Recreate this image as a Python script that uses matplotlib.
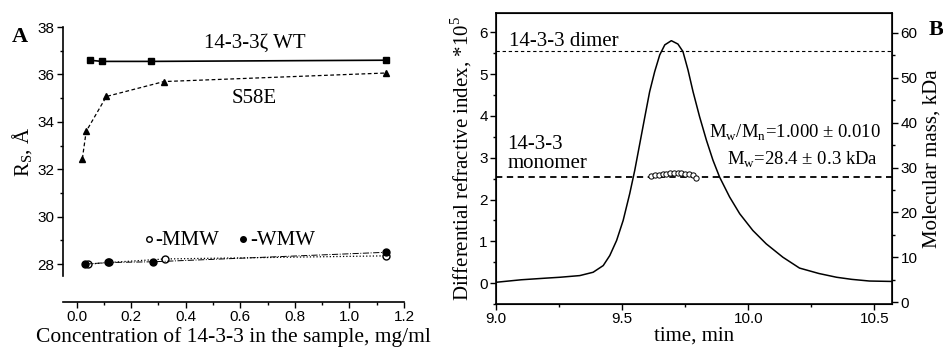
import numpy as np
import matplotlib.pyplot as plt
from matplotlib.ticker import MultipleLocator

# ---------------- data: panel A (Stokes radius vs concentration) ----------------
wt_conc = [0.048, 0.092, 0.272, 1.133]
wt_rs = [36.6, 36.55, 36.55, 36.6]

s58e_conc = [0.021, 0.035, 0.109, 0.32, 1.133]
s58e_rs = [32.45, 33.6, 35.07, 35.7, 36.06]

mmw_conc = [0.042, 0.12, 0.325, 1.133]
mmw_rs = [28.0, 28.07, 28.22, 28.35]

wmw_conc = [0.03, 0.115, 0.28, 1.133]
wmw_rs = [28.0, 28.07, 28.1, 28.5]

# ---------------- data: panel B (SEC-MALS trace) ----------------
t_min = [9.0, 9.1, 9.2, 9.253, 9.332, 9.385, 9.425, 9.451, 9.478, 9.504,
         9.530, 9.550, 9.570, 9.590, 9.609, 9.629, 9.649, 9.669, 9.695,
         9.721, 9.741, 9.761, 9.781, 9.807, 9.834, 9.860, 9.886, 9.926,
         9.966, 10.018, 10.071, 10.137, 10.203, 10.28, 10.35, 10.41,
         10.48, 10.57]
dri = [0.02, 0.08, 0.12, 0.14, 0.18, 0.26, 0.42, 0.66, 1.02, 1.50,
       2.14, 2.70, 3.34, 3.98, 4.58, 5.06, 5.46, 5.70, 5.80,
       5.72, 5.54, 5.10, 4.58, 3.98, 3.42, 2.94, 2.54, 2.06,
       1.66, 1.26, 0.94, 0.62, 0.36, 0.23, 0.14, 0.09,
       0.05, 0.04]

mass_t = [9.616, 9.631, 9.646, 9.661, 9.675, 9.690, 9.705, 9.720, 9.735,
          9.750, 9.764, 9.779, 9.794]
mass_kda = [28.2, 28.3, 28.35, 28.45, 28.6, 28.75, 28.85, 28.85, 28.75,
            28.65, 28.5, 28.3, 27.7]

dimer_kda = 56
monomer_kda = 28

SANS = ['Liberation Sans', 'DejaVu Sans']
SERIF = ['Liberation Serif', 'DejaVu Serif']
plt.rcParams['font.family'] = SANS
plt.rcParams['font.size'] = 11
plt.rcParams['mathtext.fontset'] = 'custom'
plt.rcParams['mathtext.rm'] = 'Liberation Serif'

fig = plt.figure(figsize=(9.43, 3.54), dpi=100)

# ================= Panel A =================
ax = fig.add_axes([0.0668, 0.2203, 0.3616, 0.7034])
ax.plot(wt_conc, wt_rs, 'k-', marker='s', markersize=4.5, linewidth=1.2)
ax.plot(s58e_conc, s58e_rs, 'k--', marker='^', markersize=4.5, linewidth=0.9, dashes=(3, 2))
ax.plot(mmw_conc, mmw_rs, 'k:', marker='o', markersize=5, mfc='white', linewidth=0.9)
ax.plot(wmw_conc, wmw_rs, 'k-.', marker='o', markersize=5, linewidth=0.7)

ax.set_xlim(-0.05, 1.2)
ax.set_ylim(27.5, 38)
ax.spines['top'].set_visible(False)
ax.spines['right'].set_visible(False)
ax.spines['bottom'].set_position(('outward', 18.5))
ax.spines['left'].set_linewidth(1.2)
ax.spines['bottom'].set_linewidth(1.2)
ax.xaxis.set_major_locator(MultipleLocator(0.2))
ax.xaxis.set_minor_locator(MultipleLocator(0.1))
ax.yaxis.set_major_locator(MultipleLocator(2))
ax.yaxis.set_minor_locator(MultipleLocator(1))
ax.tick_params(which='major', direction='out', length=4, width=1, pad=2)
ax.tick_params(which='minor', direction='out', length=2.5, width=1)
ax.set_xticks([0.0, 0.2, 0.4, 0.6, 0.8, 1.0, 1.2])
ax.set_xticklabels(['0.0', '0.2', '0.4', '0.6', '0.8', '1.0', '1.2'])
ax.set_yticks([28, 30, 32, 34, 36, 38])

ax.set_xlabel('Concentration of 14-3-3 in the sample, mg/ml', family=SERIF, fontsize=15.5, labelpad=2)
ax.set_ylabel('R$_\\mathregular{S}$, Å', family=SERIF, fontsize=15, labelpad=2)

ax.text(0.653, 37.32, '14-3-3ζ WT', family=SERIF, fontsize=15, ha='center', va='center')
ax.text(0.65, 35.0, 'S58E', family=SERIF, fontsize=15, ha='center', va='center')
ax.plot([0.264], [29.05], 'ko', markersize=4, mfc='white', clip_on=False)
ax.text(0.29, 29.0, '-MMW', family=SERIF, fontsize=15, ha='left', va='center')
ax.plot([0.61], [29.05], 'ko', markersize=4, clip_on=False)
ax.text(0.635, 29.0, '-WMW', family=SERIF, fontsize=15, ha='left', va='center')
fig.text(0.012, 0.895, 'A', family=SERIF, fontsize=16, fontweight='bold', ha='left', va='center')

# ================= Panel B =================
bx = fig.add_axes([0.526, 0.1412, 0.42, 0.8218])
bx.plot(t_min, dri, 'k-', linewidth=1.1)
bx.set_xlim(9.0, 10.57)
bx.set_ylim(-0.5, 6.46)
bx.xaxis.set_major_locator(MultipleLocator(0.5))
bx.xaxis.set_minor_locator(MultipleLocator(0.25))
bx.yaxis.set_major_locator(MultipleLocator(1))
bx.yaxis.set_minor_locator(MultipleLocator(0.5))
bx.set_xticks([9.0, 9.5, 10.0, 10.5])
bx.set_xticklabels(['9.0', '9.5', '10.0', '10.5'])
bx.tick_params(which='major', direction='out', length=4, width=1, top=False, pad=2)
bx.tick_params(which='minor', direction='out', length=2.5, width=1, top=False)
for s in bx.spines.values():
    s.set_linewidth(1.2)
bx.set_xlabel('time, min', family=SERIF, fontsize=15, labelpad=0)
bx.set_ylabel('Differential refractive index, *10$^\\mathregular{5}$', family=SERIF,
              fontsize=15, labelpad=4)

rx = bx.twinx()
rx.set_ylim(-0.4, 64.4)
rx.yaxis.set_major_locator(MultipleLocator(10))
rx.yaxis.set_minor_locator(MultipleLocator(5))
rx.tick_params(which='major', direction='out', length=4, width=1, pad=2)
rx.tick_params(which='minor', direction='out', length=2.5, width=1)
rx.axhline(dimer_kda, color='black', linestyle='--', linewidth=0.8, dashes=(3, 2.5))
rx.axhline(monomer_kda, color='black', linestyle='--', linewidth=1.3, dashes=(3.5, 2.5))
rx.plot(mass_t, mass_kda, 'o', color='black', mfc='white', markersize=3.8, markeredgewidth=0.7)
rx.set_ylabel('Molecular mass, kDa', family=SERIF, fontsize=15, labelpad=4)

bx.text(9.05, 5.78, '14-3-3 dimer', family=SERIF, fontsize=15, ha='left', va='center')
bx.text(9.045, 3.09, '14-3-3\nmonomer', family=SERIF, fontsize=15, ha='left', va='center',
        linespacing=0.95)
bx.text(10.527, 3.6, 'M$_\\mathregular{w}$/M$_\\mathregular{n}$=1.000 ± 0.010', family=SERIF,
        fontsize=13.5, ha='right', va='center')
bx.text(10.516, 2.96, 'M$_\\mathregular{w}$=28.4 ± 0.3 kDa', family=SERIF,
        fontsize=13.5, ha='right', va='center')
fig.text(0.993, 0.915, 'B', family=SERIF, fontsize=16, fontweight='bold', ha='center', va='center')

fig.savefig('out.png', dpi=100)
